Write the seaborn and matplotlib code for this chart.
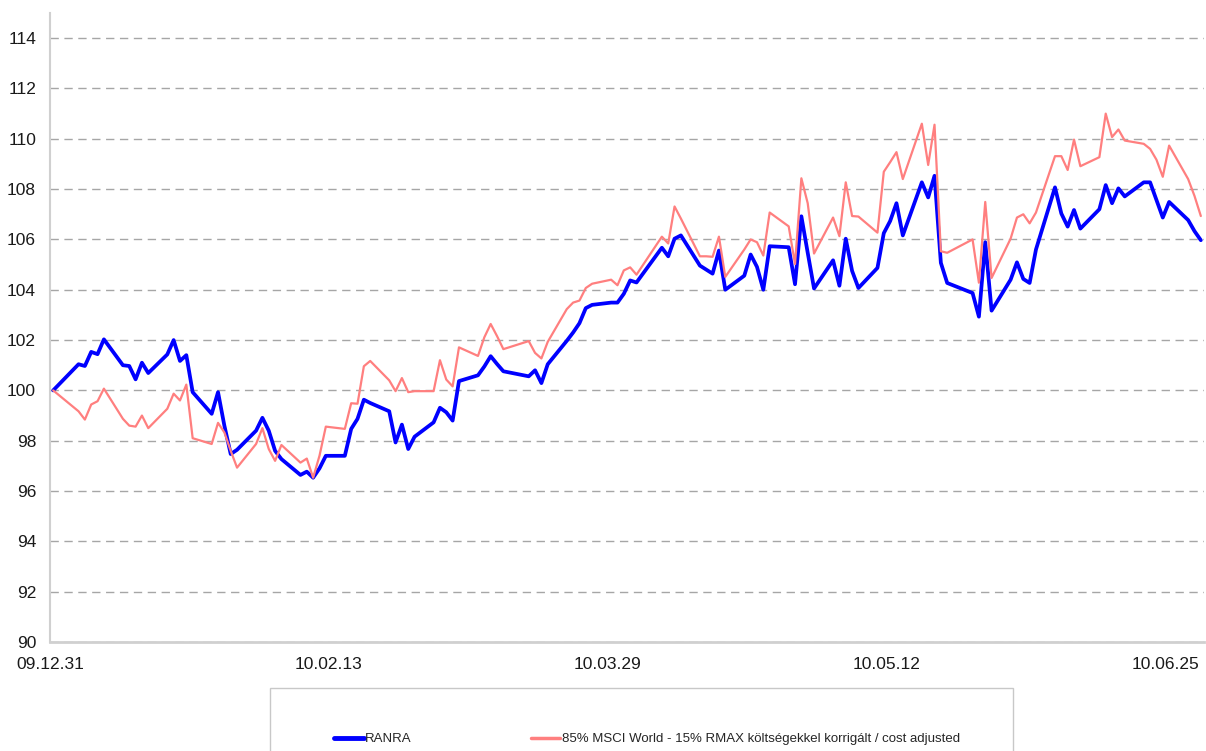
import numpy as np
import pandas as pd
import matplotlib
matplotlib.use("Agg")
import matplotlib.pyplot as plt
import matplotlib.dates as mdates
from matplotlib.patches import Rectangle
import seaborn as sns

dates = [
    "2009-12-31",
    "2010-01-04", "2010-01-05", "2010-01-06", "2010-01-07", "2010-01-08",
    "2010-01-11", "2010-01-12", "2010-01-13", "2010-01-14", "2010-01-15",
    "2010-01-18", "2010-01-19", "2010-01-20", "2010-01-21", "2010-01-22",
    "2010-01-25", "2010-01-26", "2010-01-27", "2010-01-28", "2010-01-29",
    "2010-02-01", "2010-02-02", "2010-02-03", "2010-02-04", "2010-02-05",
    "2010-02-08", "2010-02-09", "2010-02-10", "2010-02-11", "2010-02-12",
    "2010-02-15", "2010-02-16", "2010-02-17", "2010-02-18", "2010-02-19",
    "2010-02-22", "2010-02-23", "2010-02-24", "2010-02-25", "2010-02-26",
    "2010-03-01", "2010-03-02", "2010-03-03", "2010-03-04", "2010-03-05",
    "2010-03-08", "2010-03-09", "2010-03-10", "2010-03-11", "2010-03-12",
    "2010-03-16", "2010-03-17", "2010-03-18", "2010-03-19",
    "2010-03-22", "2010-03-23", "2010-03-24", "2010-03-25", "2010-03-26",
    "2010-03-29", "2010-03-30", "2010-03-31", "2010-04-01", "2010-04-02",
    "2010-04-06", "2010-04-07", "2010-04-08", "2010-04-09",
    "2010-04-12", "2010-04-13", "2010-04-14", "2010-04-15", "2010-04-16",
    "2010-04-19", "2010-04-20", "2010-04-21", "2010-04-22", "2010-04-23",
    "2010-04-26", "2010-04-27", "2010-04-28", "2010-04-29", "2010-04-30",
    "2010-05-03", "2010-05-04", "2010-05-05", "2010-05-06", "2010-05-07",
    "2010-05-10", "2010-05-11", "2010-05-12", "2010-05-13", "2010-05-14",
    "2010-05-17", "2010-05-18", "2010-05-19", "2010-05-20", "2010-05-21",
    "2010-05-25", "2010-05-26", "2010-05-27", "2010-05-28",
    "2010-05-31", "2010-06-01", "2010-06-02", "2010-06-03", "2010-06-04",
    "2010-06-07", "2010-06-08", "2010-06-09", "2010-06-10", "2010-06-11",
    "2010-06-14", "2010-06-15", "2010-06-16", "2010-06-17", "2010-06-18",
    "2010-06-21", "2010-06-22", "2010-06-23", "2010-06-24", "2010-06-25",
    "2010-06-28", "2010-06-29", "2010-06-30",
]

ranra = [
    100.0,
    101.04, 100.97, 101.53, 101.44, 102.03,
    101.0, 100.97, 100.44, 101.1, 100.69,
    101.43, 102.0, 101.17, 101.4, 99.93,
    99.07, 99.93, 98.6, 97.47, 97.64,
    98.4, 98.91, 98.4, 97.6, 97.27,
    96.64, 96.77, 96.53, 96.9, 97.4,
    97.4, 98.47, 98.87, 99.63, 99.5,
    99.17, 97.93, 98.64, 97.67, 98.16,
    98.73, 99.31, 99.13, 98.8, 100.37,
    100.6, 100.95, 101.36, 101.05, 100.76,
    100.56, 100.8, 100.29, 101.04,
    101.97, 102.3, 102.67, 103.27, 103.4,
    103.49, 103.49, 103.84, 104.37, 104.29,
    105.67, 105.33, 106.03, 106.16,
    104.96, 104.8, 104.64, 105.56, 104.0,
    104.56, 105.4, 104.91, 104.0, 105.73,
    105.69, 104.22, 106.92, 105.47, 104.05,
    105.17, 104.16, 106.03, 104.75, 104.07,
    104.87, 106.25, 106.73, 107.44, 106.16,
    108.27, 107.67, 108.53, 105.07, 104.27,
    103.87, 102.93, 105.89, 103.17,
    104.4, 105.09, 104.43, 104.27, 105.6,
    108.07, 107.03, 106.51, 107.17, 106.43,
    107.2, 108.16, 107.44, 108.03, 107.71,
    108.27, 108.27, 107.57, 106.87, 107.49,
    106.77, 106.33, 105.97,
]

benchmark = [
    100.0,
    99.17, 98.84, 99.44, 99.57, 100.07,
    98.87, 98.6, 98.56, 99.0, 98.5,
    99.27, 99.87, 99.6, 100.23, 98.1,
    97.87, 98.71, 98.33, 97.6, 96.93,
    97.87, 98.5, 97.67, 97.2, 97.83,
    97.13, 97.29, 96.53, 97.4, 98.56,
    98.47, 99.49, 99.47, 100.96, 101.17,
    100.4, 99.97, 100.49, 99.93, 99.97,
    99.97, 101.2, 100.43, 100.16, 101.71,
    101.37, 102.11, 102.64, 102.16, 101.64,
    101.96, 101.49, 101.27, 101.93,
    103.23, 103.49, 103.57, 104.07, 104.24,
    104.4, 104.18, 104.77, 104.89, 104.6,
    106.11, 105.84, 107.31, 106.83,
    105.33, 105.33, 105.31, 106.11, 104.51,
    105.6, 106.0, 105.89, 105.36, 107.07,
    106.52, 105.02, 108.43, 107.44, 105.44,
    106.87, 106.13, 108.27, 106.93, 106.91,
    106.27, 108.69, 109.07, 109.47, 108.4,
    110.6, 108.96, 110.56, 105.53, 105.47,
    106.0, 104.28, 107.49, 104.47,
    106.03, 106.87, 107.0, 106.64, 107.07,
    109.31, 109.31, 108.76, 109.97, 108.91,
    109.27, 111.0, 110.07, 110.37, 109.93,
    109.8, 109.6, 109.17, 108.49, 109.73,
    108.4, 107.73, 106.93,
]

series_names = ["RANRA",
                "85% MSCI World - 15% RMAX költségekkel korrigált / cost adjusted"]
x_ticks = ["2009-12-31", "2010-02-13", "2010-03-29", "2010-05-12", "2010-06-25"]
y_ticks = list(range(90, 115, 2))

sns.set_style("white")
plt.rcParams["font.family"] = ["Liberation Sans", "DejaVu Sans"]

dt = pd.to_datetime(dates) + pd.Timedelta(hours=12)
df = pd.DataFrame({
    "date": list(dt) * 2,
    "value": ranra + benchmark,
    "series": [series_names[0]] * len(dates) + [series_names[1]] * len(dates),
})

fig = plt.figure(figsize=(12.06, 7.51), dpi=100)
ax = fig.add_axes([50 / 1206, 1 - 642 / 751, 1154 / 1206, 629 / 751])

palette = {series_names[0]: "#0000FF", series_names[1]: "#FF7F7F"}
sns.lineplot(data=df[df.series == series_names[0]], x="date", y="value",
             color=palette[series_names[0]], linewidth=2.7, ax=ax,
             legend=False, zorder=2)
sns.lineplot(data=df[df.series == series_names[1]], x="date", y="value",
             color=palette[series_names[1]], linewidth=1.6, ax=ax,
             legend=False, zorder=3)

ax.set_ylim(90, 115)
ax.set_xlim(pd.Timestamp("2009-12-31"), pd.Timestamp("2010-07-01"))
ax.set_yticks(y_ticks)
ax.set_xticks(pd.to_datetime(x_ticks))
ax.xaxis.set_major_formatter(mdates.DateFormatter("%y.%m.%d"))
ax.set_xlabel("")
ax.set_ylabel("")

ax.yaxis.grid(True, color="#a6a6a6", linestyle=(0, (6, 4)), linewidth=1.0)
ax.xaxis.grid(False)
for s in ["top", "right"]:
    ax.spines[s].set_visible(False)
ax.spines["left"].set_color("#d0d0d0")
ax.spines["left"].set_linewidth(1.5)
ax.spines["bottom"].set_color("#d0d0d0")
ax.spines["bottom"].set_linewidth(2.0)
ax.tick_params(axis="both", which="major", direction="out", length=6,
               color="#d0d0d0", width=1.2, labelsize=12.5, labelcolor="#1a1a1a")
ax.tick_params(axis="y", pad=4)
ax.tick_params(axis="x", pad=5)

# legend frame
fig.patches.append(Rectangle((270 / 1206, -0.01), 743 / 1206, 1 - 688 / 751 + 0.01,
                             transform=fig.transFigure, fill=False,
                             edgecolor="#c8c8c8", linewidth=1.0))
handles = [plt.Line2D([], [], color=palette[series_names[0]], linewidth=3.5),
           plt.Line2D([], [], color=palette[series_names[1]], linewidth=2.5)]
fig.legend(handles, series_names, loc="center left",
           bbox_to_anchor=(322 / 1206, 1 - 739 / 751), ncol=2, frameon=False,
           fontsize=9.5, handlelength=2.27, handletextpad=0.1, columnspacing=9.0)

fig.savefig("out.png", dpi=100)
